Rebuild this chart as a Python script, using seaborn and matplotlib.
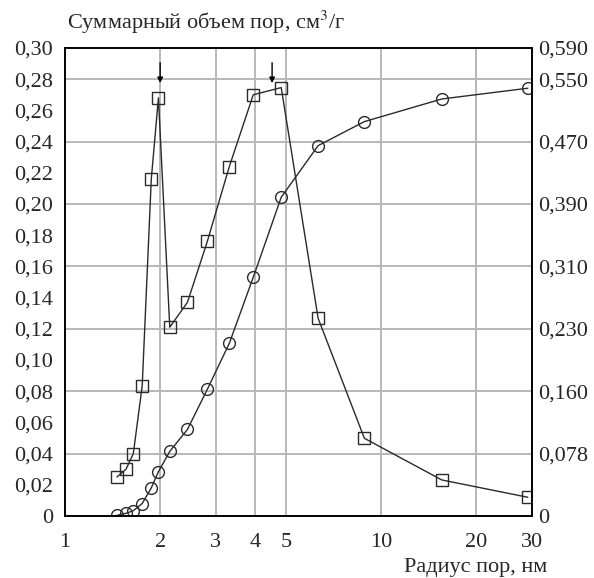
import numpy as np
import pandas as pd
import matplotlib
matplotlib.use("Agg")
import matplotlib.pyplot as plt
from matplotlib.ticker import FixedLocator, FixedFormatter, NullLocator
import seaborn as sns

# ---- data ----
radius = [1.46, 1.56, 1.645, 1.755, 1.875, 1.975, 2.145, 2.44, 2.82, 3.31, 3.94, 4.83, 6.32, 8.85, 15.55, 29.1]
cum_volume = [0.0004, 0.0017, 0.0034, 0.008, 0.018, 0.0284, 0.0414, 0.0555, 0.0812, 0.1107,
              0.153, 0.2043, 0.2374, 0.2528, 0.2673, 0.2742]
# distribution (read in left-axis units, converted to right axis units)
dist_left_units = [0.025, 0.030, 0.040, 0.0835, 0.216, 0.268, 0.121, 0.137, 0.176, 0.224,
                   0.270, 0.2746, 0.1267, 0.0498, 0.0231, 0.012]
right_scale = 0.590 / 0.30
distribution = [v * right_scale for v in dist_left_units]

x_ticks = [1, 2, 3, 4, 5, 10, 20, 30]
left_ticks = [round(0.02 * i, 2) for i in range(16)]
left_labels = ["0"] + [f"{v:.2f}".replace(".", ",") for v in left_ticks[1:]]
right_labels = ["0", "0,078", "0,160", "0,230", "0,310", "0,390", "0,470", "0,550", "0,590"]
right_left_equiv = [0, 0.04, 0.08, 0.12, 0.16, 0.20, 0.24, 0.28, 0.30]
arrow_x = [2.0, 4.52]

df_c = pd.DataFrame({"r": radius, "v": cum_volume})
df_d = pd.DataFrame({"r": radius, "d": distribution})

sns.set_style("white")
plt.rcParams["font.family"] = ["Liberation Serif", "DejaVu Serif"]
plt.rcParams["mathtext.fontset"] = "stix"

FS = 16

fig = plt.figure(figsize=(5.94, 5.78), dpi=100)
ax = fig.add_axes([0.1094, 0.1073, 0.7862, 0.8097])
ax2 = ax.twinx()

grid_col = "#b8b8b8"
ax.set_xscale("log")
ax.set_xlim(1, 30)
ax.set_ylim(0, 0.30)
ax2.set_ylim(0, 0.59)

for xv in x_ticks[1:-1]:
    ax.axvline(xv, color=grid_col, lw=1.4, zorder=0)
for yv in right_left_equiv[1:-1]:
    ax.axhline(yv, color=grid_col, lw=1.4, zorder=0)

line_col = "#2a2a2a"
sns.lineplot(data=df_c, x="r", y="v", ax=ax, color=line_col, lw=1.0, marker="o",
             markersize=8.5, markerfacecolor="none", markeredgecolor=line_col,
             markeredgewidth=1.0, sort=False)
sns.lineplot(data=df_d, x="r", y="d", ax=ax2, color=line_col, lw=1.0, marker="s",
             markersize=9, markerfacecolor="none", markeredgecolor=line_col,
             markeredgewidth=1.0, sort=False)

ax.xaxis.set_major_locator(FixedLocator(x_ticks))
ax.xaxis.set_major_formatter(FixedFormatter([str(t) for t in x_ticks]))
ax.xaxis.set_minor_locator(NullLocator())
ax.yaxis.set_major_locator(FixedLocator(left_ticks))
ax.yaxis.set_major_formatter(FixedFormatter(left_labels))
ax2.yaxis.set_major_locator(FixedLocator([v * right_scale for v in right_left_equiv]))
ax2.yaxis.set_major_formatter(FixedFormatter(right_labels))

ax.tick_params(axis="x", length=0, pad=12.5, labelsize=FS)
ax.tick_params(axis="y", length=0, pad=8.5, labelsize=FS)
ax2.tick_params(axis="y", length=0, pad=4.3, labelsize=FS)
ax.set_xlabel("")
ax.set_ylabel("")
ax2.set_ylabel("")

for a in (ax, ax2):
    for s in a.spines.values():
        s.set_color("black")
        s.set_linewidth(1.2)

for xa in arrow_x:
    ax.annotate("", xy=(xa, 0.2775), xytext=(xa, 0.2905),
                arrowprops=dict(arrowstyle="-|>", color="black", lw=1.0,
                                mutation_scale=8, shrinkA=0, shrinkB=0))

fig.text(0.1128, 0.962, "Суммарный объем пор, см$^3$/г", fontsize=FS, ha="left", va="center")
fig.text(0.921, 0.019, "Радиус пор, нм", fontsize=FS, ha="right", va="center")

fig.savefig("out.png", dpi=100)
